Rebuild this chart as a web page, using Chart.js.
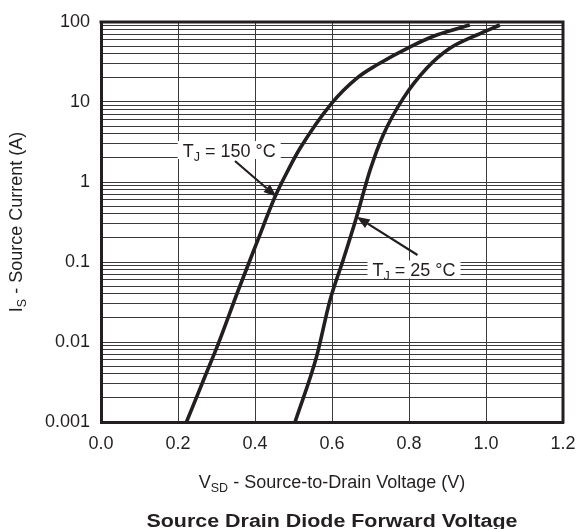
<!DOCTYPE html>
<html><head><meta charset="utf-8">
<script src="https://cdn.jsdelivr.net/npm/chart.js@4.4.0/dist/chart.umd.min.js"></script>
<style>html,body{margin:0;padding:0;background:#fff}#wrap{width:580px;height:529px;position:relative}</style>
</head><body><div id="wrap"><canvas id="c"></canvas></div>
<script>
// ---- data ----
const vsd150 = [0.222, 0.270, 0.305, 0.357, 0.404, 0.452, 0.486, 0.517, 0.599, 0.664, 0.716, 0.803, 0.872, 0.958];
const is150  = [0.001, 0.0037, 0.0096, 0.045, 0.171, 0.655, 1.41, 2.64, 9.64, 19.8, 29, 49, 68.8, 91.7];
const vsd25  = [0.504, 0.560, 0.595, 0.629, 0.664, 0.699, 0.733, 0.785, 0.846, 0.906, 0.976, 1.036];
const is25   = [0.001, 0.0066, 0.0335, 0.106, 0.368, 1.41, 3.87, 11.1, 26.4, 46.9, 68.8, 91.7];

const xTickValues = [0, 0.2, 0.4, 0.6, 0.8, 1.0, 1.2];
const xTickLabels = ['0.0', '0.2', '0.4', '0.6', '0.8', '1.0', '1.2'];
const yTickValues = [0.001, 0.01, 0.1, 1, 10, 100];
const yTickLabels = ['0.001', '0.01', '0.1', '1', '10', '100'];
const yMinorMultipliers = [1, 2, 3, 4, 5, 6, 7, 8, 9];

const annTemps   = ['150 °C', '25 °C'];
const annCenterV = [0.333, 0.813];
const annCenterI = [2.51, 0.0806];
const annTailV   = [0.348, 0.822];
const annTailI   = [1.83, 0.1224];
const annTipV    = [0.456, 0.664];
const annTipI    = [0.655, 0.368];

const xTitle = [['V', false], ['SD', true], [' - Source-to-Drain Voltage (V)', false]];
const yTitle = [['I', false], ['S', true], [' - Source Current (A)', false]];
const chartTitle = 'Source Drain Diode Forward Voltage';

// ---- styling ----
const INK = '#231f20';
const FONT = '"Liberation Sans", Arial, Helvetica, sans-serif';
const MAIN = 18, SUB = 12.5;

function richWidth(ctx, parts) {
  let w = 0;
  parts.forEach(([t, s]) => { ctx.font = (s ? SUB : MAIN) + 'px ' + FONT; w += ctx.measureText(t).width; });
  return w;
}
function drawRich(ctx, parts, cx, baseline) {
  const w = richWidth(ctx, parts);
  let x = cx - w / 2;
  ctx.textAlign = 'left'; ctx.textBaseline = 'alphabetic';
  parts.forEach(([t, s]) => {
    ctx.font = (s ? SUB : MAIN) + 'px ' + FONT;
    ctx.fillText(t, x, baseline + (s ? 4 : 0));
    x += ctx.measureText(t).width;
  });
  return w;
}

const decorPlugin = {
  id: 'decor',
  afterDatasetsDraw(chart) {
    const ctx = chart.ctx, a = chart.chartArea;
    const xs = chart.scales.x, ys = chart.scales.y;
    ctx.save();
    // top/right frame
    ctx.strokeStyle = INK; ctx.lineWidth = 3;
    ctx.beginPath();
    ctx.moveTo(a.left - 1.5, a.top); ctx.lineTo(a.right, a.top); ctx.lineTo(a.right, a.bottom + 1.5);
    ctx.stroke();
    // annotations
    annTemps.forEach((temp, i) => {
      const parts = [['T', false], ['J', true], [' = ' + temp, false]];
      const cx = xs.getPixelForValue(annCenterV[i]);
      const cy = ys.getPixelForValue(annCenterI[i]);
      const w = richWidth(ctx, parts);
      ctx.fillStyle = '#fff';
      ctx.fillRect(cx - w / 2 - 5, cy - 9, w + 10, 18);
      ctx.fillStyle = INK;
      drawRich(ctx, parts, cx, cy + 6.5);
      // arrow
      const x0 = xs.getPixelForValue(annTailV[i]), y0 = ys.getPixelForValue(annTailI[i]);
      const x1 = xs.getPixelForValue(annTipV[i]), y1 = ys.getPixelForValue(annTipI[i]);
      const ang = Math.atan2(y1 - y0, x1 - x0);
      const hl = 13, hw = 5;
      const bx = x1 - hl * Math.cos(ang), by = y1 - hl * Math.sin(ang);
      ctx.strokeStyle = INK; ctx.lineWidth = 2.2;
      ctx.beginPath(); ctx.moveTo(x0, y0); ctx.lineTo(bx, by); ctx.stroke();
      ctx.beginPath();
      ctx.moveTo(x1, y1);
      ctx.lineTo(bx + hw * Math.sin(ang), by - hw * Math.cos(ang));
      ctx.lineTo(bx - hw * Math.sin(ang), by + hw * Math.cos(ang));
      ctx.closePath(); ctx.fill();
    });
    ctx.restore();
  },
  afterDraw(chart) {
    const ctx = chart.ctx, a = chart.chartArea;
    const cx = (a.left + a.right) / 2, cy = (a.top + a.bottom) / 2;
    ctx.save();
    ctx.fillStyle = INK;
    drawRich(ctx, xTitle, cx, 488);
    ctx.save();
    ctx.translate(22, cy); ctx.rotate(-Math.PI / 2);
    drawRich(ctx, yTitle, 0, 0);
    ctx.restore();
    // bold caption, stretched to the reference width
    ctx.font = 'bold 18px ' + FONT;
    ctx.textAlign = 'center'; ctx.textBaseline = 'alphabetic';
    const tw = ctx.measureText(chartTitle).width;
    const sx = 371 / tw;
    ctx.save();
    ctx.translate(cx, 526.5); ctx.scale(sx, 1);
    ctx.fillText(chartTitle, 0, 0);
    ctx.restore();
    ctx.restore();
  }
};

new Chart(document.getElementById('c'), {
  type: 'line',
  data: {
    datasets: [
      { label: 'TJ = 150 °C', data: vsd150.map((v, i) => ({ x: v, y: is150[i] })) },
      { label: 'TJ = 25 °C', data: vsd25.map((v, i) => ({ x: v, y: is25[i] })) }
    ].map(d => Object.assign(d, {
      borderColor: INK, borderWidth: 3.6, pointRadius: 0, fill: false,
      cubicInterpolationMode: 'monotone', borderCapStyle: 'butt'
    }))
  },
  options: {
    responsive: true, maintainAspectRatio: false, animation: false,
    layout: { padding: { top: 22, right: 17, left: 0, bottom: 0 } },
    plugins: { legend: { display: false }, tooltip: { enabled: false } },
    scales: {
      x: {
        type: 'linear', min: 0, max: 1.2,
        afterBuildTicks: s => { s.ticks = xTickValues.map(v => ({ value: v })); },
        afterFit: s => { s.height = 107; s.paddingLeft = 0; s.paddingRight = 0; },
        grid: { color: '#3a3a3a', lineWidth: 1, drawTicks: false },
        border: { display: true, color: INK, width: 3 },
        ticks: { autoSkip: false, maxRotation: 0, padding: 11, color: INK,
          font: { family: FONT, size: MAIN },
          callback: (v, i) => xTickLabels[i] }
      },
      y: {
        type: 'logarithmic', min: 0.001, max: 100,
        afterBuildTicks: s => {
          const t = [];
          yTickValues.forEach((d, k) => {
            if (k < yTickValues.length - 1) yMinorMultipliers.forEach(m => t.push({ value: parseFloat((d * m).toPrecision(6)) }));
            else t.push({ value: d });
          });
          s.ticks = t;
        },
        afterFit: s => { s.width = 101; s.paddingTop = 0; s.paddingBottom = 0; },
        grid: { color: '#3a3a3a', lineWidth: 1, drawTicks: false },
        border: { display: true, color: INK, width: 3 },
        ticks: { autoSkip: false, padding: 11, color: INK,
          font: { family: FONT, size: MAIN },
          callback: v => {
            const k = yTickValues.findIndex(t => Math.abs(t - v) / t < 1e-6);
            return k >= 0 ? yTickLabels[k] : '';
          } }
      }
    }
  },
  plugins: [decorPlugin]
});
</script>
</body></html>
